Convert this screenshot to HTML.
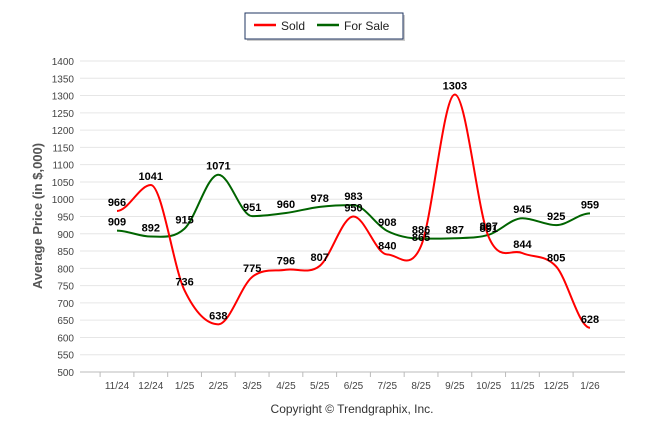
<!DOCTYPE html>
<html><head><meta charset="utf-8"><style>
body{margin:0;background:#fff;}
svg{display:block;font-family:"Liberation Sans",Arial,sans-serif;}
</style></head><body>
<svg width="646" height="434">
<g id="grid"></g>
<g id="series"></g>
<g id="labels"></g>
<text x="42" y="216" transform="rotate(-90 42 216)" text-anchor="middle" font-size="13" font-weight="bold" fill="#555">Average Price (in $,000)</text>
<text x="352" y="413" text-anchor="middle" font-size="12" fill="#333">Copyright © Trendgraphix, Inc.</text>
<g>
<rect x="247" y="15" width="158" height="26" fill="#ccc"/>
<rect x="245" y="13" width="158" height="26" fill="#fff" stroke="#1f3560" stroke-width="1"/>
<line x1="254" y1="25" x2="276" y2="25" stroke="#f00" stroke-width="2.5"/>
<text x="281" y="30" font-size="12" fill="#222">Sold</text>
<line x1="317" y1="25" x2="339" y2="25" stroke="#006400" stroke-width="2.5"/>
<text x="344" y="30" font-size="12" fill="#222">For Sale</text>
</g>
</svg>
<script>
const categories=["11/24","12/24","1/25","2/25","3/25","4/25","5/25","6/25","7/25","8/25","9/25","10/25","11/25","12/25","1/26"];
const soldValues=[966,1041,736,638,775,796,807,950,840,865,1303,891,844,805,628];
const forSaleValues=[909,892,915,1071,951,960,978,983,908,886,887,897,945,925,959];
const yTicks=[500,550,600,650,700,750,800,850,900,950,1000,1050,1100,1150,1200,1250,1300,1350,1400];
const NS="http://www.w3.org/2000/svg";
const yMin=500,yMax=1400,yTop=61,yBot=372,xL=80,xR=625,x0=117,x1=590;
const X=i=>x0+i*(x1-x0)/(categories.length-1);
const Y=v=>yBot-(v-yMin)/(yMax-yMin)*(yBot-yTop);
function mk(tag,attrs,parent){const e=document.createElementNS(NS,tag);for(const k in attrs)e.setAttribute(k,attrs[k]);parent.appendChild(e);return e;}
const grid=document.getElementById('grid');
yTicks.forEach(t=>{
 const l=mk('line',{x1:xL,x2:xR,y1:Y(t),y2:Y(t),stroke:'#e6e6e6','stroke-width':1},grid);
 
 
 const tx=mk('text',{x:74,y:Y(t)+4,'text-anchor':'end','font-size':10,fill:'#444'},grid);
 tx.textContent=t;
 
 
});
const ax=mk('line',{x1:xL,x2:xR,y1:yBot,y2:yBot,stroke:'#bbb'},grid);


categories.forEach((c,i)=>{
 const step=(x1-x0)/(categories.length-1);
 const tk=mk('line',{x1:X(i)-step/2,x2:X(i)-step/2,y1:yBot,y2:yBot+5,stroke:'#bbb'},grid);
 
 
 const tx=mk('text',{x:X(i),y:yBot+17,'text-anchor':'middle','font-size':10,fill:'#444'},grid);
 tx.textContent=c;
 
 
});
function path(vals){
 const p=vals.map((v,i)=>[X(i),Y(v)]);
 const s=1.5;let d=`M${p[0][0]},${p[0][1]}`;
 for(let i=0;i<p.length-1;i++){
  const a=p[i],b=p[i+1];
  let c1=[a[0]+(b[0]-a[0])/s/2,a[1]],c2=[b[0]-(b[0]-a[0])/s/2,b[1]];
  const pa=p[i-1],pb=p[i+2];
  if(pa&&!((a[1]>pa[1]&&a[1]>b[1])||(a[1]<pa[1]&&a[1]<b[1]))) c1[1]=a[1]+(b[1]-pa[1])/(b[0]-pa[0])*(c1[0]-a[0]);
  if(pb&&!((b[1]>a[1]&&b[1]>pb[1])||(b[1]<a[1]&&b[1]<pb[1]))) c2[1]=b[1]+(pb[1]-a[1])/(pb[0]-a[0])*(c2[0]-b[0]);
  d+=` C${c1[0]},${c1[1]} ${c2[0]},${c2[1]} ${b[0]},${b[1]}`;
 }
 return d;
}
const ser=document.getElementById('series'),lab=document.getElementById('labels');
[[forSaleValues,'#006400','for-sale-line'],[soldValues,'#f00','sold-line']].forEach(([vals,col,name])=>{
 const pe=mk('path',{d:path(vals),fill:'none',stroke:col,'stroke-width':2},ser);
 
 
 vals.forEach((v,i)=>{
  const t=mk('text',{x:X(i),y:Y(v)-5,'text-anchor':'middle','font-size':11,'font-weight':'bold',fill:'#000'},lab);
  t.textContent=v;
  
  
 });
});
</script>
</body></html>
